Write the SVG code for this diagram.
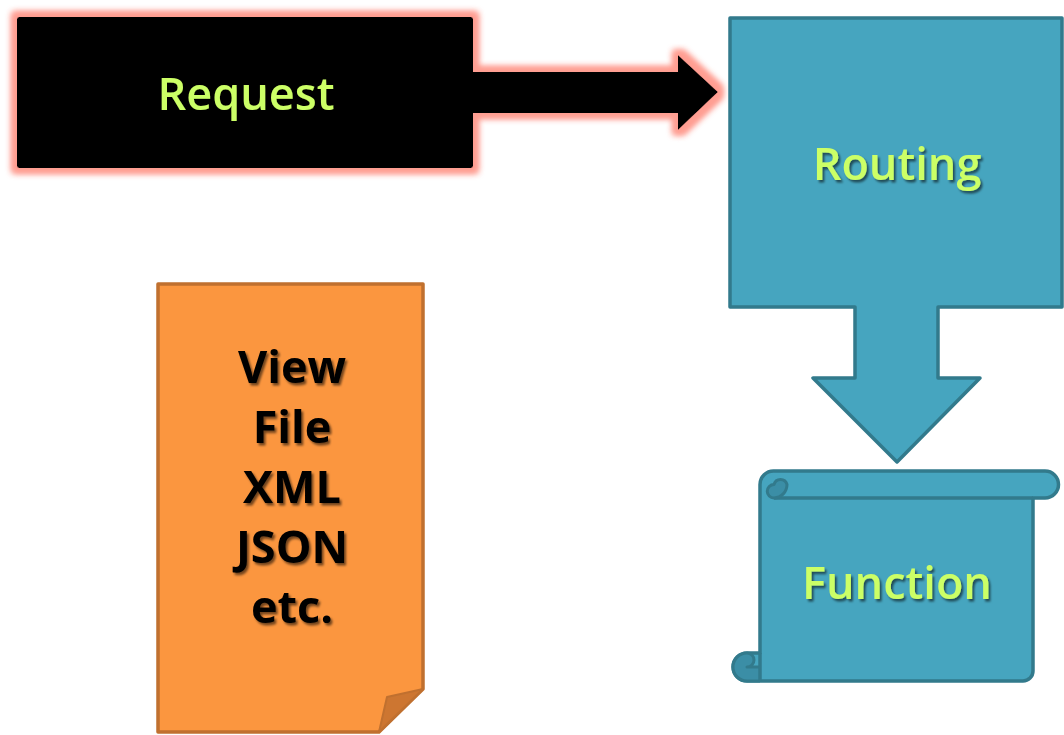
<svg xmlns="http://www.w3.org/2000/svg" width="1064" height="735" viewBox="0 0 1064 735">
<defs>
<filter id="glow" x="-10%" y="-25%" width="120%" height="150%">
<feMorphology in="SourceAlpha" operator="dilate" radius="4.5" result="d"/>
<feGaussianBlur in="d" stdDeviation="3.2" result="b"/>
<feFlood flood-color="#ff9e92" result="c"/>
<feComposite in="c" in2="b" operator="in" result="g"/>
<feMerge><feMergeNode in="g"/><feMergeNode in="g"/><feMergeNode in="SourceGraphic"/></feMerge>
</filter>
<filter id="tshadow" x="-10%" y="-20%" width="130%" height="150%">
<feDropShadow dx="2" dy="2.5" stdDeviation="1.2" flood-color="#000" flood-opacity="0.55"/>
</filter>
</defs>
<style>
.lbl{font-family:"Open Sans","Noto Sans","DejaVu Sans",sans-serif;font-weight:600;font-size:45px;fill:#ccff66;text-anchor:middle;}
.doc{font-family:"Open Sans","Noto Sans","DejaVu Sans",sans-serif;font-weight:700;font-size:45px;fill:#000;text-anchor:middle;}
.teal{fill:#46a5bf;stroke:#327a8c;stroke-width:3.5;stroke-linejoin:round;}
.curl{fill:#3b8ea6;stroke:#327a8c;stroke-width:3;stroke-linejoin:round;}
</style>
<g filter="url(#glow)">
<g id="connectors">
<path id="arrow-request-routing" d="M470,72 H678 V55 L718,92 L678,130 V113 H470 Z" fill="#000"/>
</g>
<g id="request">
<rect x="17" y="17" width="456" height="151" rx="2" fill="#000"/>
</g>
</g>
<text class="lbl" x="246" y="110" filter="url(#tshadow)">Request</text>
<g id="routing">
<path class="teal" d="M730,18 H1062 V307 H938 V378 H980 L897,462 L813,378 H855 V307 H730 Z"/>
<text class="lbl" x="897" y="180" filter="url(#tshadow)">Routing</text>
</g>
<g id="function">
<path class="teal" d="M774,471 H1045 A13.5,13.5 0 0 1 1045,498 H1033 V671 A10,10 0 0 1 1023,681 H747 A14,14 0 0 1 747,653 H760 V484.5 A13.5,13.5 0 0 1 774,471 Z"/>
<path d="M774,498 H1033" fill="none" stroke="#327a8c" stroke-width="3.5"/>
<path class="curl" d="M774,498 A6.75,6.75 0 0 1 774,484.5 A6.75,6.75 0 0 1 787,484.5 A13.5,13.5 0 0 1 774,498 Z"/>
<path class="curl" d="M760,681 H747 A14,14 0 0 1 747,653 A7,7 0 0 1 754,660 A7,7 0 0 1 747,667 H760"/>
<path d="M760,653 V681" fill="none" stroke="#327a8c" stroke-width="3.5"/>
<text class="lbl" x="897" y="599" filter="url(#tshadow)">Function</text>
</g>
<g id="viewfile">
<path d="M158,284 H423 V689 L379,732 H158 Z" fill="#fb963f" stroke="#c0702f" stroke-width="3.5" stroke-linejoin="round"/>
<path d="M423,689 L387,697 L379,732 Z" fill="#cd7631" stroke="#c0702f" stroke-width="2" stroke-linejoin="round"/>
<g filter="url(#tshadow)">
<text class="doc" x="292" y="383">View</text>
<text class="doc" x="292" y="443">File</text>
<text class="doc" x="292" y="503">XML</text>
<text class="doc" x="292" y="563">JSON</text>
<text class="doc" x="292" y="623">etc.</text>
</g>
</g>
</svg>
